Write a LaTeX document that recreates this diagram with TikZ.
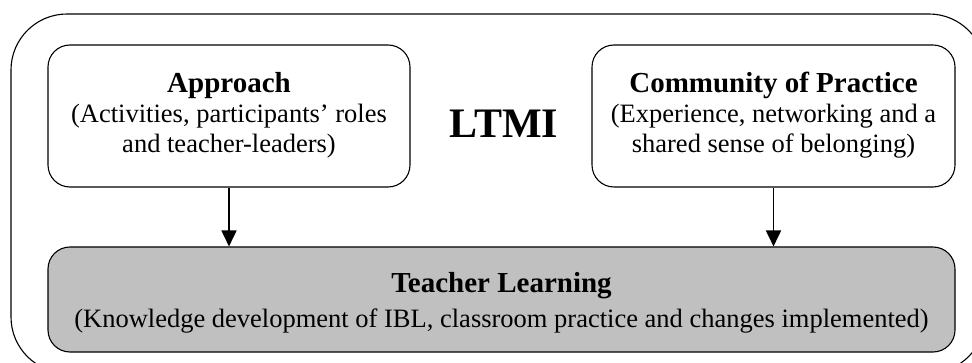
\documentclass[tikz,border=0pt]{standalone}
\usepackage{fontspec}
\setmainfont{Liberation Serif}
\usetikzlibrary{arrows.meta, positioning}
\definecolor{learninggray}{RGB}{192,192,192}

\begin{document}
\begin{tikzpicture}[x=1pt, y=-1pt, thick]

    % Define styles
    \tikzstyle{block} = [draw, line width=1.1pt, rounded corners=22pt, inner sep=0pt]
    \tikzstyle{learning} = [block, fill=learninggray]
    \tikzstyle{flow} = [line width=1.8pt, -{Triangle[length=16pt, width=15pt]}]
    \tikzstyle{title} = [font=\fontsize{29}{33}\selectfont\bfseries, anchor=base]
    \tikzstyle{info} = [font=\fontsize{26.5}{30}\selectfont, anchor=base, align=center]

    % Page frame
    \useasboundingbox (0,0) rectangle (972,363);
    \clip (0,0) rectangle (972,363);

    % Outer programme frame
    \draw[line width=1.1pt, rounded corners=56pt] (11,14) rectangle (985,373);

    % Key points
    \coordinate (approachc) at (229,116);
    \coordinate (communityc) at (773.5,116);
    \coordinate (learningc) at (501.5,299.5);

    % Draw boxes
    \node[block, minimum width=362pt, minimum height=142pt] (approach) at (approachc) {};
    \node[block, minimum width=363pt, minimum height=142pt] (community) at (communityc) {};
    \node[learning, minimum width=907pt, minimum height=105pt] (learning) at (learningc) {};

    % Box texts (base of a wrapped text is its last line)
    \node[title] (approachtitle) at (229,93) {Approach};
    \node[info] (approachinfo) at (229,153) {(Activities, participants’ roles\\and teacher-leaders)};
    \node[title] (communitytitle) at (773.5,93) {Community of Practice};
    \node[info] (communityinfo) at (773.5,153) {(Experience, networking and a\\shared sense of belonging)};
    \node[title] (learningtitle) at (501.5,293) {Teacher Learning};
    \node[info] (learninginfo) at (501.5,328) {(Knowledge development of IBL, classroom practice and changes implemented)};

    % Programme name
    \node[font=\fontsize{42}{46}\selectfont\bfseries, anchor=base] (ltmi) at (504,138) {LTMI};

    % Arrows into teacher learning
    \draw[flow] (approach.south) -- (approach.south |- learning.north);
    \draw[flow] (community.south) -- (community.south |- learning.north);

\end{tikzpicture}
\end{document}
